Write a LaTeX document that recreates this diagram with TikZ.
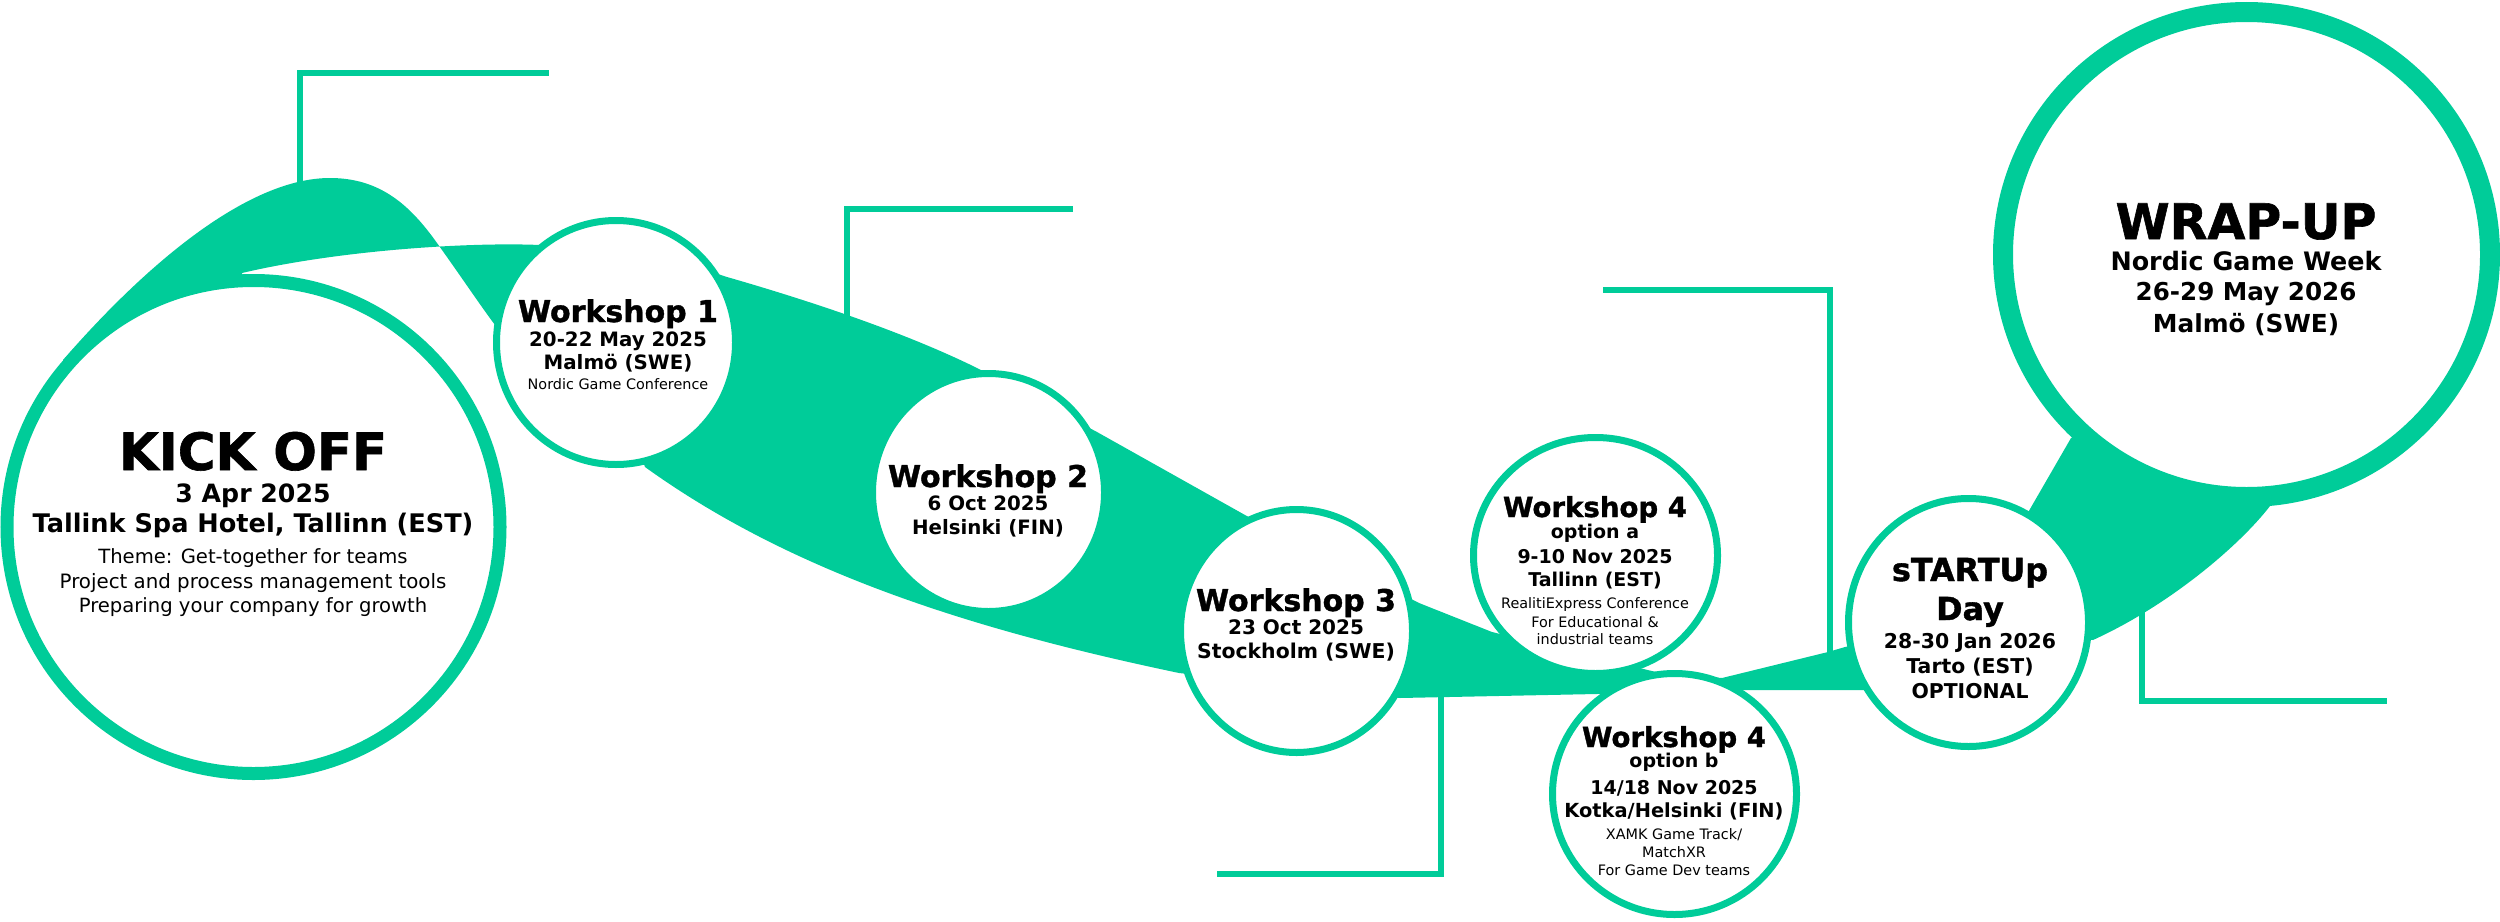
\documentclass[tikz,border=0pt]{standalone}
\usepackage{fontspec}
\setmainfont{DejaVu Sans}
\newfontfamily\heavyfont{DejaVu Sans}[UprightFont=* Bold, FakeBold=1.2]
\usetikzlibrary{shapes.geometric}
\definecolor{ng}{RGB}{0,204,153}
\newcommand{\setfs}[1]{\fontsize{#1}{#1}\selectfont}
\begin{document}
\begin{tikzpicture}[x=0.5pt,y=-0.5pt,
  ring/.style={ellipse, draw=ng, fill=white, inner sep=0pt, outer sep=0pt},
  wsring/.style={ring, line width=3.5pt},
  lbl/.style={anchor=base, inner sep=0pt, text=black},
  hl/.style={lbl, font=\heavyfont\setfs{#1}},
  bl/.style={lbl, font=\bfseries\setfs{#1}},
  rl/.style={lbl, font=\setfs{#1}},
  lline/.style={draw=ng, line width=3pt, line join=miter, line cap=butt}]
\useasboundingbox (0,0) rectangle (2500,921);

% ---- green ribbon shapes ----
% kickoff arch (twisted ribbon)
\fill[ng] (63,360) .. controls (150,260) and (250,178) .. (330,178)
  .. controls (380,178) and (410,205) .. (437,243)
  .. controls (460,275) and (480,305) .. (495,325)
  -- (616,342) -- (540,245)
  .. controls (470,242) and (340,250) .. (242,273)
  -- (253,527) -- cycle;
% main band
\fill[ng] (700,268) -- (727,277) .. controls (800,298) and (900,330) .. (977,368)
  -- (1097,432) -- (1245,515) -- (1419,603) -- (1492,632) -- (1660,673) -- (1722,678)
  -- (1828,652) -- (1845,647) -- (1900,636) -- (1920,690)
  -- (1863,690) -- (1747,690) -- (1597,694) -- (1400,698) -- (1179,673)
  .. controls (979,631) and (795,575) .. (645,467)
  -- (620,400) -- cycle;
% startup to wrap-up
\fill[ng] (1968,622) -- (2030,509) -- (2071,438) -- (2180,400) -- (2270,506)
  .. controls (2240,545) and (2170,605) .. (2093,640) -- cycle;

% ---- L-shaped lines ----
\coordinate (a1) at (300,190); \coordinate (a2) at (300,73); \coordinate (a3) at (549,73);
\coordinate (b1) at (847,320); \coordinate (b2) at (847,209); \coordinate (b3) at (1073,209);
\coordinate (c1) at (1441,690); \coordinate (c2) at (1441,874); \coordinate (c3) at (1217,874);
\coordinate (d1) at (1830,660); \coordinate (d2) at (1830,290); \coordinate (d3) at (1603,290);
\coordinate (e1) at (2142,610); \coordinate (e2) at (2142,701); \coordinate (e3) at (2387,701);
\draw[lline] (a1) -- (a2) -- (a3);
\draw[lline] (b1) -- (b2) -- (b3);
\draw[lline] (c1) -- (c2) -- (c3);
\draw[lline] (d1) -- (d2) -- (d3);
\draw[lline] (e1) -- (e2) -- (e3);

% ---- circles ----
\node[ring, line width=6.5pt, minimum width=246.5pt, minimum height=246.5pt] (kick) at (253.5,527) {};
\node[wsring, minimum width=119.5pt, minimum height=122pt] (ws1) at (616,342.5) {};
\node[wsring, minimum width=116pt, minimum height=119pt] (ws2) at (988.5,492.5) {};
\node[wsring, minimum width=116pt, minimum height=121.5pt] (ws3) at (1296.5,631) {};
\node[wsring, minimum width=122pt, minimum height=118pt] (ws4a) at (1595.5,555.5) {};
\node[wsring, minimum width=122pt, minimum height=120.5pt] (ws4b) at (1674.5,794) {};
\node[wsring, minimum width=120pt, minimum height=124pt] (start) at (1968.5,622.5) {};
\node[ring, line width=10pt, minimum width=243.5pt, minimum height=242.5pt] (wrap) at (2246.5,254.5) {};

% ---- texts ----
\node[hl=25.7] (k1) at (253,470) {KICK OFF};
\node[bl=12.6] (k2) at (253,502) {3 Apr 2025};
\node[bl=12.8] (k3) at (253,532) {Tallink Spa Hotel, Tallinn (EST)};
\node[rl=9.8] (k4) at (253,563) {Theme: Get-together for teams};
\node[rl=9.9] (k5) at (253,588) {Project and process management tools};
\node[rl=9.8] (k6) at (253,612) {Preparing your company for growth};

\node[hl=15] (w11) at (618,322) {Workshop 1};
\node[bl=9.9] (w12) at (618,346) {20-22 May 2025};
\node[bl=9.9] (w13) at (618,369) {Malmö (SWE)};
\node[rl=7.2] (w14) at (618,389) {Nordic Game Conference};

\node[hl=15] (w21) at (988,487) {Workshop 2};
\node[bl=9.9] (w22) at (988,510) {6 Oct 2025};
\node[bl=9.9] (w23) at (988,534) {Helsinki (FIN)};

\node[hl=15] (w31) at (1296,611) {Workshop 3};
\node[bl=10] (w32) at (1296,634) {23 Oct 2025};
\node[bl=10.2] (w33) at (1296,658) {Stockholm (SWE)};

\node[hl=13.8] (wa1) at (1595,517) {Workshop 4};
\node[bl=9.5] (wa2) at (1595,538) {option a};
\node[bl=9.5] (wa3) at (1595,563) {9-10 Nov 2025};
\node[bl=9.5] (wa4) at (1595,586) {Tallinn (EST)};
\node[rl=7.2] (wa5) at (1595,608) {RealitiExpress Conference};
\node[rl=7.2] (wa6) at (1595,627) {For Educational \&};
\node[rl=7.2] (wa7) at (1595,644) {industrial teams};

\node[hl=13.8] (wb1) at (1674,747) {Workshop 4};
\node[bl=9.5] (wb2) at (1674,767) {option b};
\node[bl=9.5] (wb3) at (1674,794) {14/18 Nov 2025};
\node[bl=9.7] (wb4) at (1674,817) {Kotka/Helsinki (FIN)};
\node[rl=7.2] (wb5) at (1674,839) {XAMK Game Track/};
\node[rl=7.2] (wb6) at (1674,857) {MatchXR};
\node[rl=7.2] (wb7) at (1674,875) {For Game Dev teams};

\node[hl=15.9] (s1) at (1970,581) {sTARTUp};
\node[hl=15.9] (s2) at (1970,620) {Day};
\node[bl=10.2] (s3) at (1970,648) {28-30 Jan 2026};
\node[bl=10.2] (s4) at (1970,673) {Tarto (EST)};
\node[bl=10.2] (s5) at (1970,698) {OPTIONAL};

\node[hl=24.5] (u1) at (2246,239) {WRAP-UP};
\node[bl=12.7] (u2) at (2246,270) {Nordic Game Week};
\node[bl=12.3] (u3) at (2246,300) {26-29 May 2026};
\node[bl=12.4] (u4) at (2246,332) {Malmö (SWE)};
\end{tikzpicture}
\end{document}
